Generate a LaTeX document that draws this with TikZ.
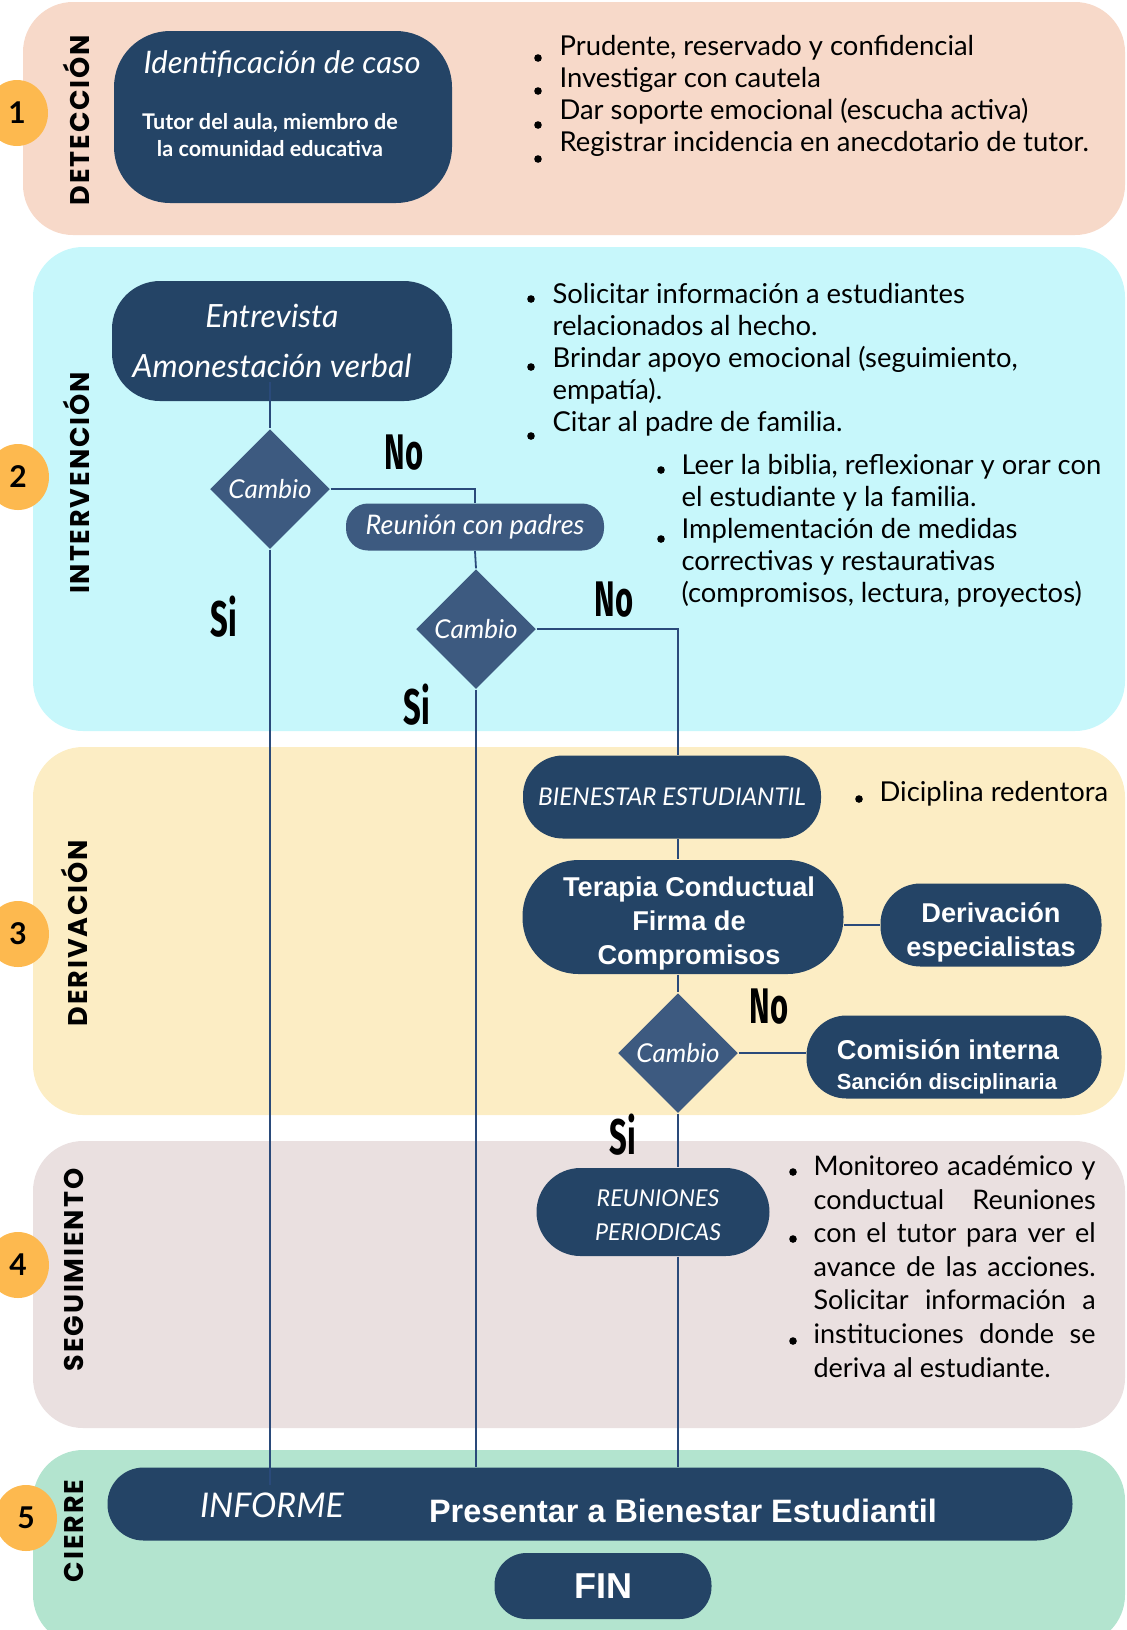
\documentclass[tikz,border=0pt]{standalone}
\usepackage{fontspec}
\setmainfont{Lato}
\newfontfamily\manof{Lato}
\newfontfamily\condf[FakeStretch=0.62]{Fira Sans}
\newfontfamily\arialf{Liberation Sans}
\newfontfamily\fasef[LetterSpace=7]{Poppins}
\usetikzlibrary{positioning}
\usetikzlibrary{calc}
\usetikzlibrary{shapes.geometric}

\definecolor{navy}{HTML}{244466}
\definecolor{navylight}{HTML}{3D5A80}
\definecolor{peach}{HTML}{F7D9C9}
\definecolor{cyanband}{HTML}{C7F7FB}
\definecolor{cream}{HTML}{FCEDC4}
\definecolor{mauve}{HTML}{EAE0E0}
\definecolor{mint}{HTML}{B3E4CF}
\definecolor{badge}{HTML}{FDB94F}
\definecolor{wire}{HTML}{2A4A7A}

\begin{document}
\begin{tikzpicture}[x=0.5pt,y=-0.5pt,semithick,inner sep=0pt]
		\tikzstyle{franja}=[rounded corners=25pt]
		\tikzstyle{num}=[ellipse,fill=badge,minimum width=31pt,minimum height=33pt,font=\bfseries\fontsize{15}{15}\selectfont]
		\tikzstyle{fase}=[rotate=90,font=\fasef\bfseries\fontsize{13.5}{13.5}\selectfont]
		\tikzstyle{caja}=[fill=navy,text=white,align=center]
		\tikzstyle{rombo}=[diamond,fill=navylight,text=white,minimum width=60pt,minimum height=60pt,font=\manof\itshape\fontsize{13}{13}\selectfont]
		\tikzstyle{mano}=[text=white,align=center,font=\manof\itshape\fontsize{16}{25}\selectfont]
		\tikzstyle{negrita}=[text=white,align=center,font=\arialf\bfseries\fontsize{13.6}{17}\selectfont]
		\tikzstyle{siono}=[font=\condf\bfseries\fontsize{25}{25}\selectfont]
		\tikzstyle{texto}=[anchor=north west,align=left,font=\fontsize{13.7}{16}\selectfont]
		\tikzstyle{punto}=[circle,fill=black,minimum size=3.8pt]
		\tikzstyle{linea}=[draw=wire,line width=0.9pt]

		\useasboundingbox (0,0) rectangle (1126,1630);

		% franjas
		\fill[peach,franja]     (23,2)    rectangle (1125,235);
		\fill[cyanband,franja]  (33,247)  rectangle (1125,731);
		\fill[cream,franja]     (33,747)  rectangle (1125,1115);
		\fill[mauve,franja]     (33,1141) rectangle (1125,1428);
		\fill[mint,franja]      (33,1450) rectangle (1125,1645);

		\node[num] (n1) at (17,113)  {1};
		\node[num] (n2) at (18,477)  {2};
		\node[num] (n3) at (18,934)  {3};
		\node[num] (n4) at (18,1265) {4};
		\node[num] (n5) at (26,1518) {5};

		\node[fase] (deteccion)    at (76,120)  {DETECCIÓN};
		\node[fase] (intervencion) at (76,483)  {INTERVENCIÓN};
		\node[fase] (derivacion)   at (74,933)  {DERIVACIÓN};
		\node[fase] (seguimiento)  at (74,1270) {SEGUIMIENTO};
		\node[fase] (cierre)       at (74,1531) {CIERRE};

		% cajas
		\node[caja,rounded corners=28pt,minimum width=169pt,minimum height=86pt] (ident) at (283,117) {};
		\node[mano,font=\manof\itshape\fontsize{15.5}{15.5}\selectfont] (identT) at (282,64) {Identificación de caso};
		\node[text=white,align=center,font=\bfseries\fontsize{10.8}{13.5}\selectfont] (identS) at (270,135) {Tutor del aula, miembro de\\la comunidad educativa};

		\node[caja,rounded corners=24pt,minimum width=170pt,minimum height=60pt] (entrev) at (282,341) {};
		\node[mano] (entrevT) at ([xshift=-5pt]entrev.center) {Entrevista\\Amonestación verbal};
		\node[rombo] (camb1) at (270,489) {Cambio};
		\node[caja,mano,fill=navylight,rounded corners=11pt,minimum width=129pt,minimum height=23.5pt,font=\manof\itshape\fontsize{13.5}{13.5}\selectfont] (reunion) at (475,527) {Reunión con padres};
		\node[rombo] (camb2) at (476,629) {Cambio};

		\node[caja,mano,rounded corners=20pt,minimum width=149pt,minimum height=41.5pt,font=\manof\itshape\fontsize{12.2}{12.2}\selectfont] (bienestar) at (672,797) {BIENESTAR ESTUDIANTIL};
		\node[caja,rounded corners=28pt,minimum width=160.5pt,minimum height=57pt] (terapia) at (683,917) {};
		\node[negrita] (terapiaT) at ([xshift=3pt,yshift=-3pt]terapia.center) {Terapia Conductual\\Firma de\\Compromisos};
		\node[caja,rounded corners=20pt,minimum width=110.5pt,minimum height=41.5pt] (deriv) at (991,925) {};
		\node[negrita] (derivT) at ([yshift=-3.5pt]deriv.center) {Derivación\\especialistas};
		\node[rombo] (camb3) at (678,1053) {Cambio};
		\node[caja,rounded corners=20pt,minimum width=147.5pt,minimum height=41.5pt] (comision) at (954,1057) {};
		\node[text=white,align=left] (comisionT) at ([xshift=-3pt,yshift=-5pt]comision.center)
			{{\arialf\bfseries\fontsize{13.6}{15}\selectfont Comisión interna}\\[3pt]{\arialf\bfseries\fontsize{11}{12}\selectfont Sanción disciplinaria}};
		\node[caja,rounded corners=22pt,minimum width=116.5pt,minimum height=44pt] (reuniones) at (653,1212) {};
		\node[mano,font=\manof\itshape\fontsize{11.6}{17}\selectfont] (reunionesT) at ([xshift=2.5pt,yshift=-1.5pt]reuniones.center) {REUNIONES\\PERIODICAS};

		\node[caja,rounded corners=18pt,minimum width=482.5pt,minimum height=36.5pt] (informe) at (590,1504) {};
		\node[mano,font=\manof\itshape\fontsize{17}{17}\selectfont] (informeT) at (272,1505) {INFORME};
		\node[negrita,font=\arialf\bfseries\fontsize{16.2}{16.2}\selectfont] (presentar) at (683,1511) {Presentar a Bienestar Estudiantil};
		\node[caja,negrita,rounded corners=16pt,minimum width=108.5pt,minimum height=33pt,font=\arialf\bfseries\fontsize{18}{18}\selectfont] (fin) at (603,1586) {FIN};

		% conectores
		\draw[linea] ([yshift=10pt]entrev.south -| camb1.north) -- (camb1.north);
		\draw[linea] (camb1.east) -| (reunion.north);
		\draw[linea] (reunion.south) -- (camb2.north);
		\draw[linea] (camb2.east) -| (bienestar.north -| camb3.north);
		\draw[linea] (bienestar.south -| camb3.north) -- (terapia.north -| camb3.north);
		\draw[linea] (terapia.east |- deriv.west) -- (deriv.west);
		\draw[linea] (terapia.south -| camb3.north) -- (camb3.north);
		\draw[linea] (camb3.east) -- (camb3.east -| comision.west);
		\draw[linea] (camb3.south) -- (reuniones.north -| camb3.south);
		\draw[linea] (reuniones.south -| camb3.south) -- (informe.north -| camb3.south);
		\draw[linea] (camb1.south) -- ([yshift=-9pt]camb1.south |- informe.north);
		\draw[linea] (camb2.south) -- (camb2.south |- informe.north);

		\node[siono] (no1) at (404,453)  {No};
		\node[siono] (no2) at (614,600)  {No};
		\node[siono] (si1) at (224,617)  {Si};
		\node[siono] (si2) at (417,705)  {Si};
		\node[siono] (no3) at (769,1007) {No};
		\node[siono] (si3) at (623,1135) {Si};

		% viñetas
		\node[texto] (notas1) at (559,35) {Prudente, reservado y confidencial\\Investigar con cautela\\Dar soporte emocional (escucha activa)\\Registrar incidencia en anecdotario de tutor.};
		\node[punto] (p11) at (538,58) {};
		\node[punto] (p12) at (538,91) {};
		\node[punto] (p13) at (538,125) {};
		\node[punto] (p14) at (538,159) {};

		\node[texto] (notas2) at (552,283) {Solicitar información a estudiantes\\relacionados al hecho.\\Brindar apoyo emocional (seguimiento,\\empatía).\\Citar al padre de familia.};
		\node[punto] (p21) at (531,299) {};
		\node[punto] (p22) at (531,367) {};
		\node[punto] (p23) at (531,436) {};

		\node[texto] (notas3) at (681,454) {Leer la biblia, reflexionar y orar con\\el estudiante y la familia.\\Implementación de medidas\\correctivas y restaurativas\\(compromisos, lectura, proyectos)};
		\node[punto] (p31) at (661,470) {};
		\node[punto] (p32) at (661,539) {};

		\node[texto] (notas4) at (879,781) {Diciplina redentora};
		\node[punto] (p41) at (859,799) {};

		\node[texto,text width=141pt,align=justify,font=\fontsize{13.5}{16.8}\selectfont] (notas5) at (813,1155)
			{Monitoreo académico y\linebreak conductual Reuniones\linebreak con el tutor para ver el\linebreak avance de las acciones.\linebreak Solicitar información a\linebreak instituciones donde se\linebreak deriva al estudiante.};
		\node[punto] (p51) at (793,1172) {};
		\node[punto] (p52) at (793,1239) {};
		\node[punto] (p53) at (793,1341) {};
\end{tikzpicture}
\end{document}
